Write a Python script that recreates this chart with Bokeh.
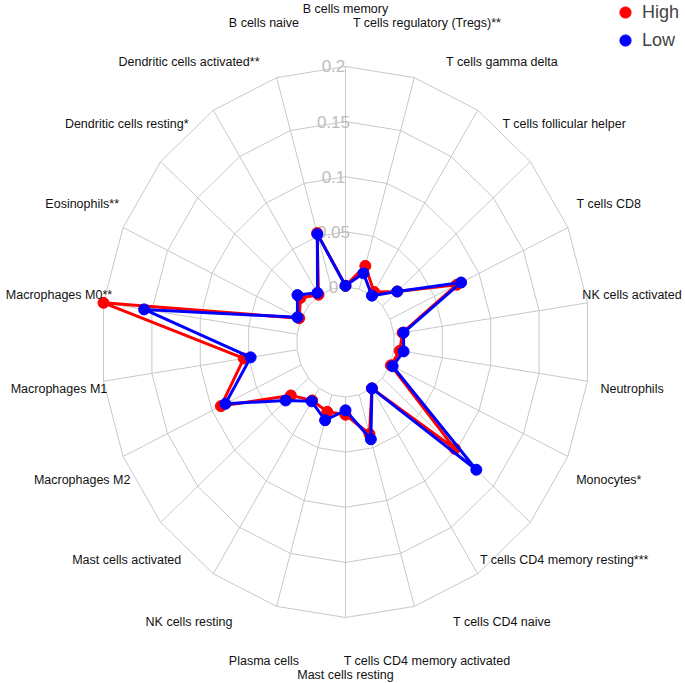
import numpy as np
from bokeh.plotting import figure
from bokeh.models import Range1d, ColumnDataSource, Legend, LegendItem
from bokeh.embed import file_html
from bokeh.resources import INLINE
from bokeh.core.properties import value

categories = [
    "B cells memory", "T cells regulatory (Tregs)**", "T cells gamma delta",
    "T cells follicular helper", "T cells CD8", "NK cells activated",
    "Neutrophils", "Monocytes*", "T cells CD4 memory resting***",
    "T cells CD4 naive", "T cells CD4 memory activated", "Mast cells resting",
    "Plasma cells", "NK cells resting", "Mast cells activated",
    "Macrophages M2", "Macrophages M1", "Macrophages M0**", "Eosinophils**",
    "Dendritic cells resting*", "Dendritic cells activated**", "B cells naive",
]
high = [0.001, 0.022, 0.004, 0.020, 0.075, 0.009, 0.006, 0.001, 0.098, 0.000,
        0.037, 0.016, 0.016, 0.013, 0.024, 0.090, 0.055, 0.200, 0.002, 0.011,
        0.001, 0.053]
low = [0.001, 0.015, 0.000, 0.020, 0.080, 0.010, 0.010, 0.003, 0.127, 0.000,
       0.042, 0.012, 0.024, 0.014, 0.031, 0.085, 0.048, 0.158, 0.004, 0.015,
       0.003, 0.052]
tick_values = [0.0, 0.05, 0.10, 0.15, 0.20]
tick_labels = ["0", "0.05", "0.1", "0.15", "0.2"]
series_names = ["High", "Low"]
series_colors = ["#ff0000", "#0000ff"]

offset = 0.05          # radial offset of the inner hole
label_rx = 0.296       # horizontal radius of category labels
label_ry = 0.302       # vertical radius of category labels
n = len(categories)
theta = np.arange(n) * 2 * np.pi / n

def polar(vals):
    r = np.asarray(vals, dtype=float) + offset
    return r * np.sin(theta), r * np.cos(theta)

p = figure(width=685, height=683,
           x_range=Range1d(-0.35276, 0.34765), y_range=Range1d(-0.30989, 0.30989),
           x_axis_type=None, y_axis_type=None,
           output_backend="svg", toolbar_location=None, min_border=0)
p.grid.visible = False
p.outline_line_color = None
p.background_fill_color = "white"

# grid rings (polygons)
ring_xs, ring_ys = [], []
for tv in tick_values:
    x, y = polar([tv] * n)
    ring_xs.append(list(x) + [x[0]])
    ring_ys.append(list(y) + [y[0]])
p.multi_line(ring_xs, ring_ys, line_color="#c8c8c8", line_width=1)

# spokes
x0, y0 = polar([tick_values[0]] * n)
x1, y1 = polar([tick_values[-1]] * n)
p.segment(x0=x0, y0=y0, x1=x1, y1=y1, line_color="#c8c8c8", line_width=1)

# tick labels on the top spoke
tick_src = ColumnDataSource(dict(
    x=[-0.0123] * len(tick_values),
    y=[tv + offset for tv in tick_values],
    t=tick_labels))
p.text(x="x", y="y", text="t", source=tick_src, text_align="center",
       text_baseline="middle", text_font=value("Liberation Sans"),
       text_font_size="17px", text_color="#bdbdbd")

# series
pt_renderers = []
for vals, name, col in zip([high, low], series_names, series_colors):
    x, y = polar(vals)
    p.line(list(x) + [x[0]], list(y) + [y[0]], line_color=col, line_width=3)
    r = p.scatter(x, y, size=11, fill_color=col, line_color=col)
    pt_renderers.append(r)

# category labels
lab_src = ColumnDataSource(dict(
    x=label_rx * np.sin(theta), y=label_ry * np.cos(theta), t=categories))
p.text(x="x", y="y", text="t", source=lab_src, text_align="center",
       text_baseline="middle", text_font=value("Liberation Sans"),
       text_font_size="12.5px", text_color="#111111")

legend = Legend(items=[LegendItem(label=nm, renderers=[r])
                       for nm, r in zip(series_names, pt_renderers)],
                location=(611, 629), glyph_width=28, glyph_height=28,
                label_height=28, spacing=0, padding=0, label_standoff=3,
                label_text_font="Liberation Sans", label_text_font_size="18px",
                border_line_color=None, background_fill_alpha=0)
p.add_layout(legend)

open("out.html", "w").write(file_html(p, INLINE))
